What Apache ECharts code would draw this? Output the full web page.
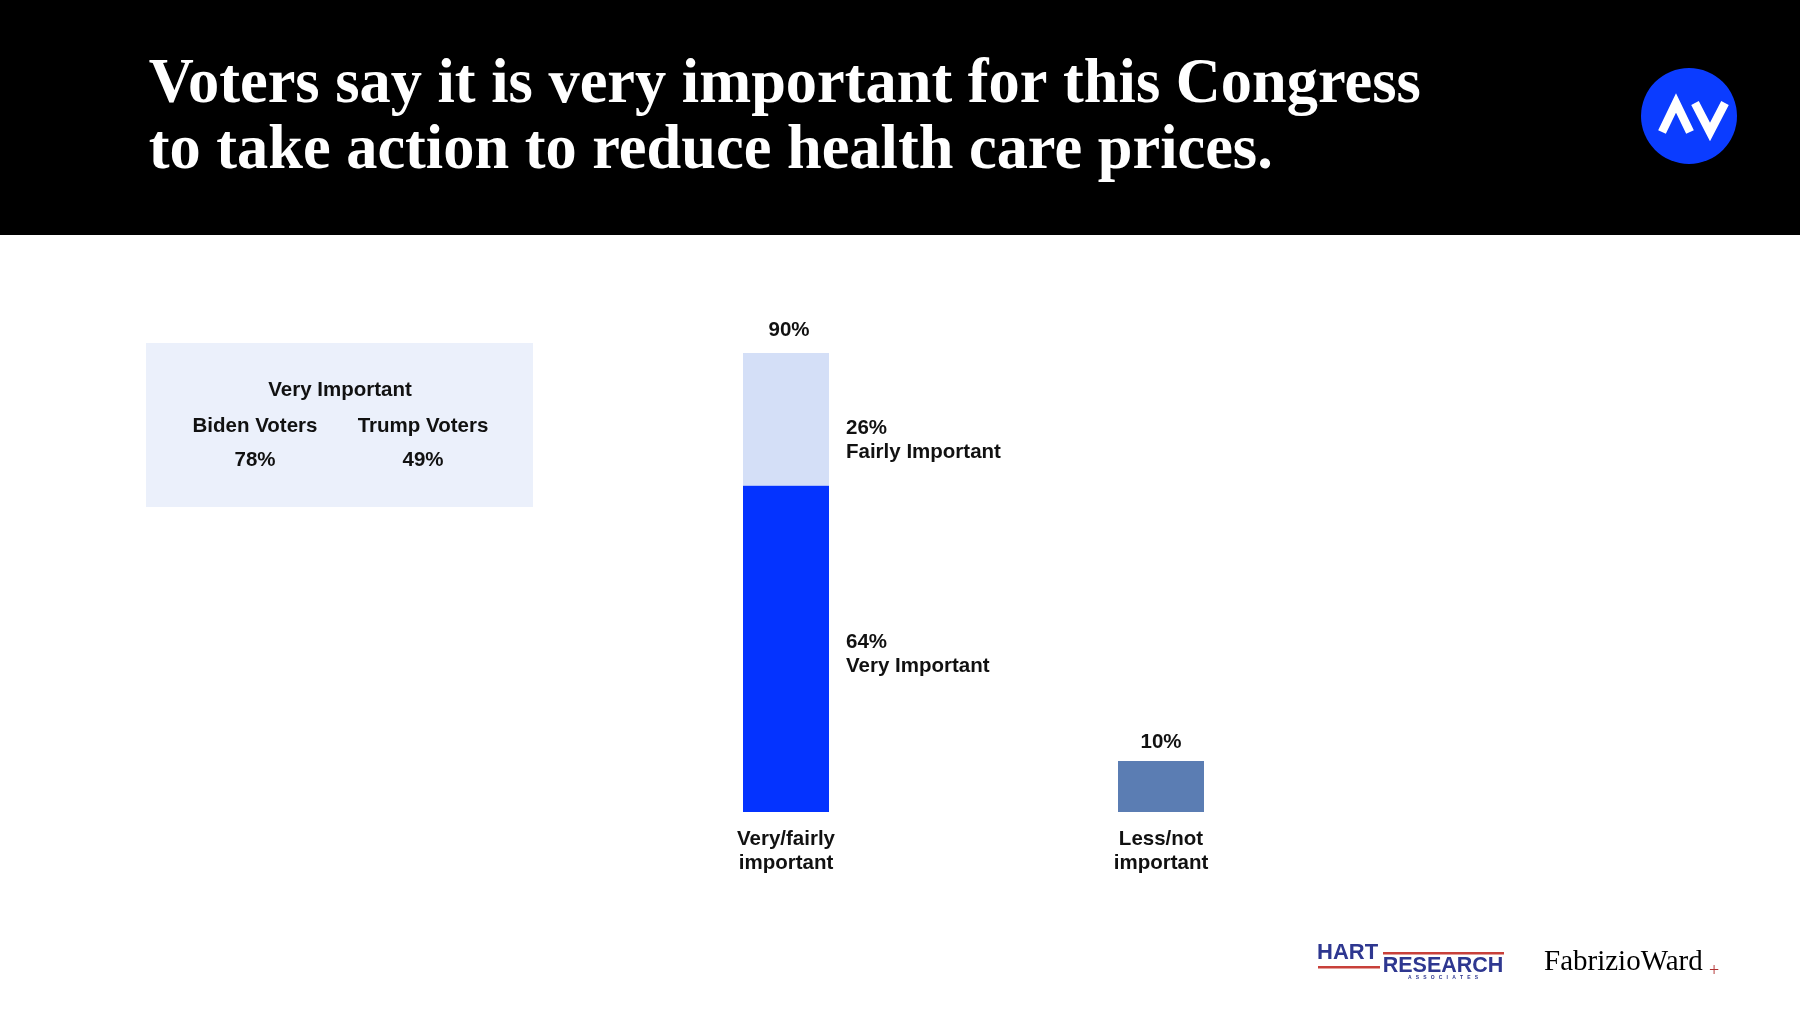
<!DOCTYPE html>
<html>
<head>
<meta charset="utf-8">
<style>
html,body{margin:0;padding:0;background:#fff;}
#chart{width:1800px;height:1013px;}
</style>
<script src="https://cdn.jsdelivr.net/npm/echarts@6/dist/echarts.min.js"></script>
</head>
<body>
<div id="chart"></div>
<script>
// ---- data ----
var categories = ['Very/fairly\nimportant', 'Less/not\nimportant'];
var veryImportant = [64, '-'];
var fairlyImportant = [26, '-'];
var lessImportant = ['-', 10];
var totals = [90, 10];
var boxHeader = 'Very Important';
var boxGroups = ['Biden Voters', 'Trump Voters'];
var boxValues = [78, 49];
var titleLines = ['Voters say it is very important for this Congress', 'to take action to reduce health care prices.'];

var chart = echarts.init(document.getElementById('chart'), null, {renderer: 'canvas'});
var sans = 'Liberation Sans, Arial, sans-serif';
var serif = 'Liberation Serif, Times New Roman, serif';
var FS = 20.5;
var lbl = {fontFamily: sans, fontWeight: 'bold', fontSize: FS, fill: '#111'};

var graphics = [
  {type: 'rect', z: -10, shape: {x: 0, y: 0, width: 1800, height: 235}, style: {fill: '#000'}},
  {type: 'circle', shape: {cx: 1689, cy: 116, r: 48}, style: {fill: '#0b3cff'}},
  {type: 'polyline', shape: {points: [[1662,132],[1676,103],[1690,132]]}, style: {stroke: '#fff', lineWidth: 8.5, fill: null, lineJoin: 'miter'}},
  {type: 'polyline', shape: {points: [[1695,103],[1710,132],[1725,103]]}, style: {stroke: '#fff', lineWidth: 8.5, fill: null, lineJoin: 'miter'}},
  {type: 'rect', shape: {x: 146, y: 343, width: 387, height: 164}, style: {fill: '#ebf0fb'}},
  {type: 'text', x: 340, y: 390, style: Object.assign({text: boxHeader, align: 'center', verticalAlign: 'middle'}, lbl)},
  // footer logos
  {type: 'text', x: 1317, y: 953, style: {text: 'HART', fontFamily: sans, fontWeight: 'bold', fontSize: 22, fill: '#2e3790', align: 'left', verticalAlign: 'middle'}},
  {type: 'rect', shape: {x: 1318, y: 966, width: 62, height: 2.5}, style: {fill: '#c8403a'}},
  {type: 'rect', shape: {x: 1383, y: 952, width: 121, height: 2.5}, style: {fill: '#c8403a'}},
  {type: 'text', x: 1443, y: 966, style: {text: 'RESEARCH', fontFamily: sans, fontWeight: 'bold', fontSize: 21.5, fill: '#2e3790', align: 'center', verticalAlign: 'middle'}},
  {type: 'text', x: 1443, y: 977.5, style: {text: 'A   S   S   O   C   I   A   T   E   S', fontFamily: sans, fontWeight: 'bold', fontSize: 5, fill: '#2e3790', align: 'center', verticalAlign: 'middle'}},
  {type: 'text', x: 1544, y: 962, style: {text: '{a|Fabrizio}{b|Ward}', align: 'left', verticalAlign: 'middle',
      rich: {a: {fontFamily: serif, fontSize: 29, color: '#a3262c'}, b: {fontFamily: serif, fontSize: 29, color: '#1a1a1a'}}}},
  {type: 'text', x: 1714, y: 971, style: {text: '+', fontFamily: serif, fontSize: 18, fill: '#b03030', align: 'center', verticalAlign: 'middle'}}
];
var titleY = [85, 151];
for (var t = 0; t < titleLines.length; t++) {
  graphics.push({type: 'text', x: 145, y: titleY[t], scaleX: 0.975, originX: 145, originY: titleY[t],
    style: {text: titleLines[t], fontFamily: serif, fontWeight: 'bold', fontSize: 64, fill: '#fff', align: 'left', verticalAlign: 'middle'}});
}
var boxX = [255, 423];
for (var i = 0; i < boxGroups.length; i++) {
  graphics.push({type: 'text', x: boxX[i], y: 426, style: Object.assign({text: boxGroups[i], align: 'center', verticalAlign: 'middle'}, lbl)});
  graphics.push({type: 'text', x: boxX[i], y: 460, style: Object.assign({text: boxValues[i] + '%', align: 'center', verticalAlign: 'middle'}, lbl)});
}

var option = {
  backgroundColor: '#fff',
  animation: false,
  graphic: graphics,
  grid: {left: 598.5, right: 451.5, top: 302, bottom: 201, containLabel: false},
  xAxis: {
    type: 'category', data: categories,
    axisLine: {show: false}, axisTick: {show: false},
    axisLabel: {margin: 15, fontFamily: sans, fontWeight: 'bold', fontSize: FS, lineHeight: 24, color: '#111', interval: 0}
  },
  yAxis: {type: 'value', min: 0, max: 100, show: false, splitLine: {show: false}},
  series: [
    {name: 'Very Important', type: 'bar', stack: 's', barWidth: 86, data: veryImportant,
      itemStyle: {color: '#0433ff'},
      label: {show: true, position: 'right', distance: 17, offset: [0, 6], align: 'left',
        formatter: function (p) { return p.value + '%\nVery Important'; },
        fontFamily: sans, fontWeight: 'bold', fontSize: FS, lineHeight: 24, color: '#111'}},
    {name: 'Fairly Important', type: 'bar', stack: 's', barWidth: 86, data: fairlyImportant,
      itemStyle: {color: '#d4dff7'},
      label: {show: true, position: 'right', distance: 17, offset: [0, 21], align: 'left',
        formatter: function (p) { return p.value + '%\nFairly Important'; },
        fontFamily: sans, fontWeight: 'bold', fontSize: FS, lineHeight: 24, color: '#111'}},
    {name: 'Less/not important', type: 'bar', stack: 's', barWidth: 86, data: lessImportant,
      itemStyle: {color: '#5b7db3'},
      label: {show: true, position: 'top', distance: 8,
        formatter: function (p) { return p.value + '%'; },
        fontFamily: sans, fontWeight: 'bold', fontSize: FS, color: '#111'}},
    {name: 'Total', type: 'bar', stack: 's', barWidth: 86, data: [0, '-'],
      itemStyle: {color: 'transparent'},
      label: {show: true, position: 'top', distance: 12, offset: [3, 0],
        formatter: function (p) { return totals[p.dataIndex] + '%'; },
        fontFamily: sans, fontWeight: 'bold', fontSize: FS, color: '#111'}}
  ]
};
chart.setOption(option);
</script>
</body>
</html>
